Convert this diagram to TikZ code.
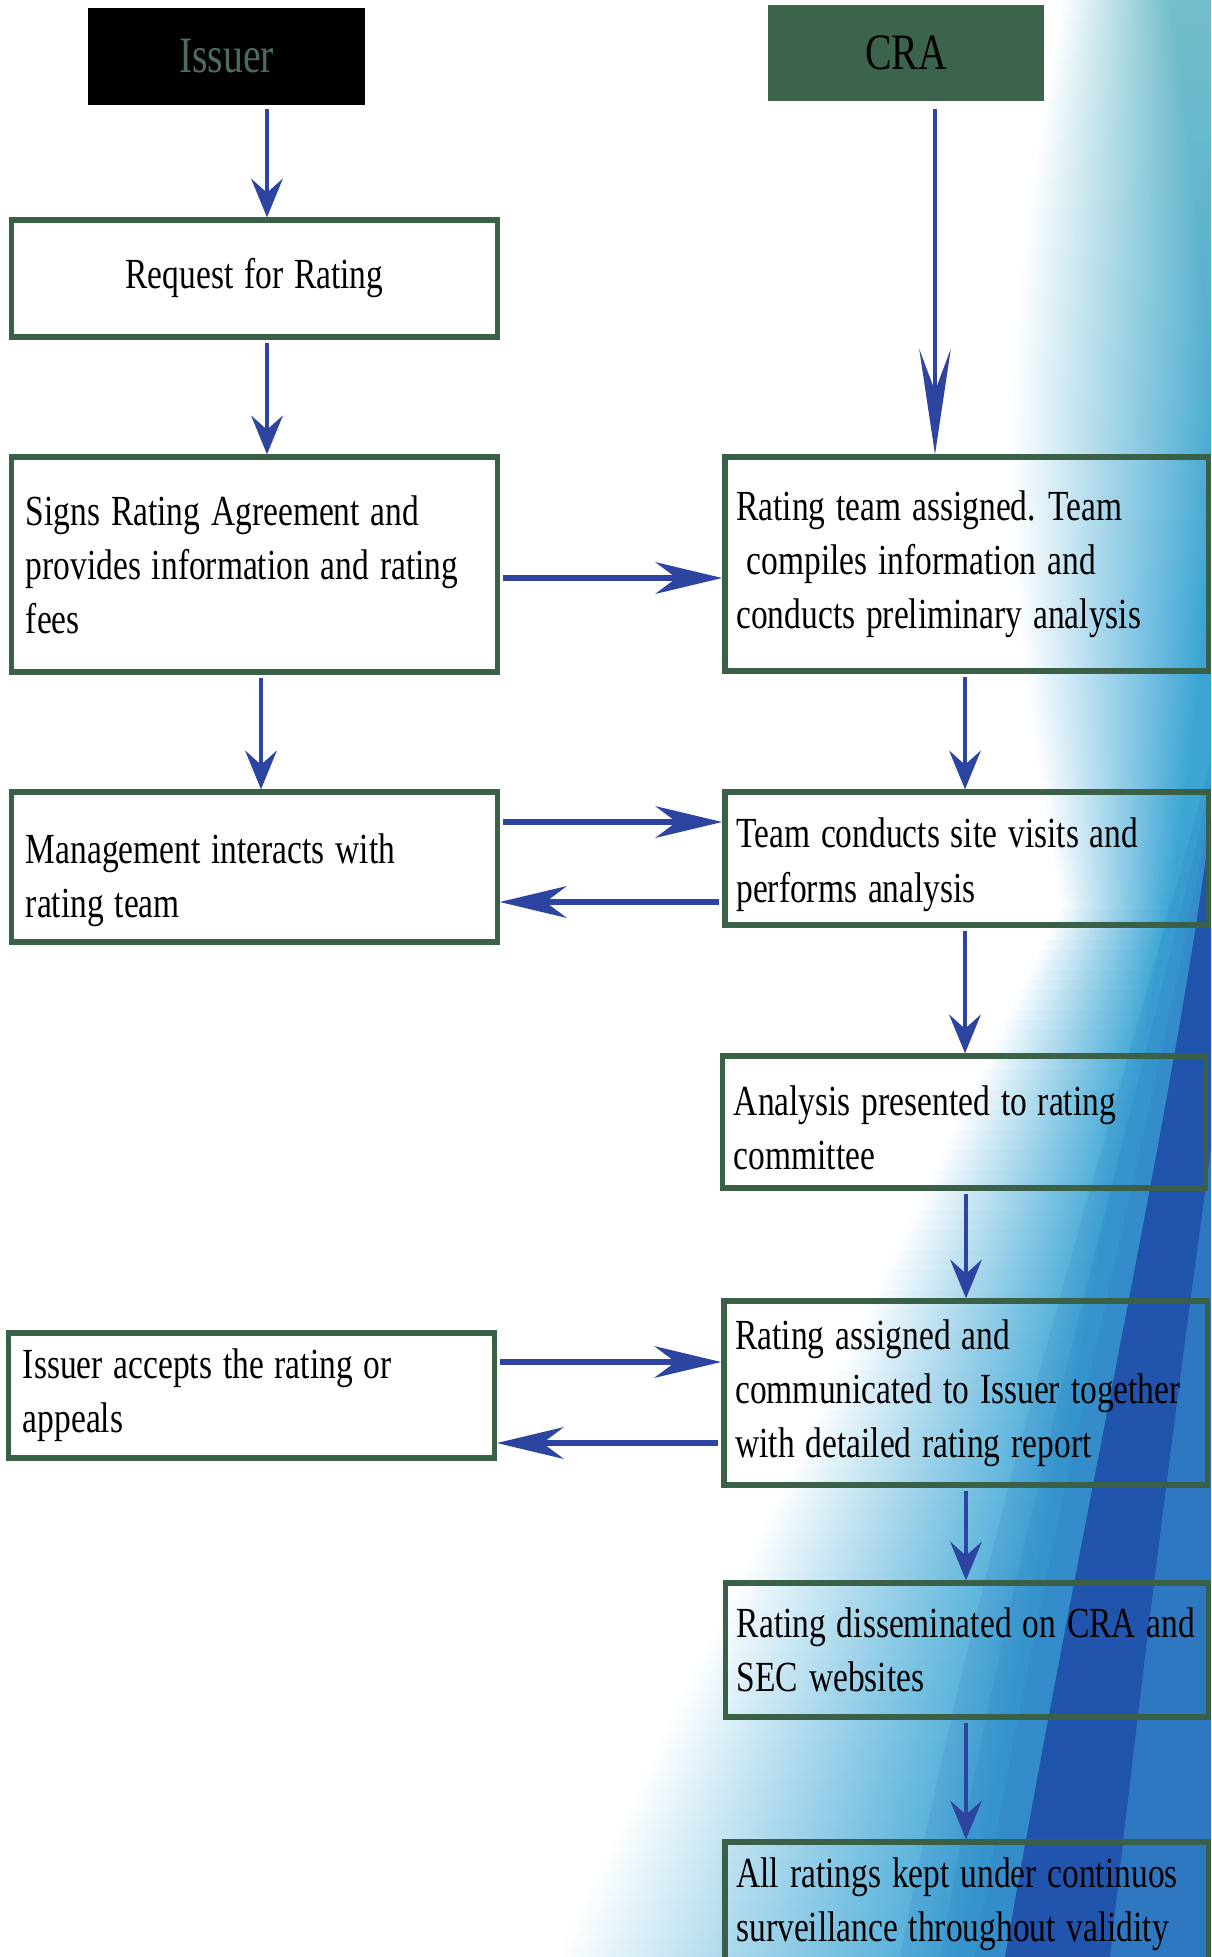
\documentclass[tikz,border=0pt]{standalone}
\usepackage{fontspec}
\setmainfont[FakeStretch=0.78]{Liberation Serif}
\usetikzlibrary{arrows.meta}
\hyphenpenalty=10000

\definecolor{boxgreen}{RGB}{58,97,72}
\definecolor{headgreen}{RGB}{60,99,76}
\definecolor{issuertxt}{RGB}{75,110,90}
\definecolor{arrowblue}{RGB}{45,68,160}
\definecolor{bgteal}{RGB}{115,190,202}
\definecolor{bgcyan}{RGB}{60,165,212}
\definecolor{bgblue}{RGB}{40,95,185}
\definecolor{bgdark}{RGB}{25,60,160}

\tikzset{
	stepbox/.style={draw=boxgreen, line width=1.5pt, inner ysep=0pt, align=left, font=\fontsize{12.2}{15.4}\selectfont, execute at begin node=\spaceskip 3.1pt plus 1pt minus 0.6pt\xspaceskip 3.6pt plus 1pt\relax},
	leftcol/.style={stepbox, inner xsep=1.4mm, text width=4.57cm},
	rightcol/.style={stepbox, inner xsep=1.15mm, text width=4.6cm},
	headbox/.style={minimum width=2.76cm, minimum height=0.96cm, inner sep=0pt, font=\fontsize{14.5}{17}\selectfont},
	flow/.style={arrowblue, line width=1.2pt, shorten <=1pt, -{Stealth[length=11pt, width=9pt, inset=4pt]}},
	longflow/.style={flow, shorten <=2pt, -{Stealth[length=30pt, width=9pt, inset=12pt]}},
	sideflow/.style={arrowblue, line width=1.5pt, shorten <=1pt, -{Stealth[length=19pt, width=9pt, inset=6pt]}}
}

\begin{document}
\begin{tikzpicture}[x=0.01cm, y=-0.01cm]
	\useasboundingbox (0,0) rectangle (1211,1957);
	\begin{scope}
		\clip (0,0) rectangle (1211,1957);
		\foreach \y in {0,10,...,1950} {
			\pgfmathsetmacro\rowx{\y<900 ? 1060-50*sin(\y/900*180) : 1060-0.48*(\y-900)}
			\pgfmathsetmacro\rampw{\y<900 ? 110+90*sin(\y/900*180) : 110+0.28*(\y-900)}
			\pgfmathsetmacro\rowmix{min(100,\y/6)}
			\colorlet{rowc}{bgcyan!\rowmix!bgteal}
			\shade[left color=white, right color=rowc] (\rowx,\y) rectangle (\rowx+\rampw,\y+11);
			\fill[rowc] (\rowx+\rampw-1,\y) rectangle (1211,\y+11);
		}
		\fill[bgblue, opacity=0.12] (1211,760) .. controls (1120,1100) and (990,1500) .. (900,1957) -- (1211,1957) -- cycle;
		\fill[bgblue, opacity=0.12] (1211,780) .. controls (1140,1100) and (1020,1500) .. (940,1957) -- (1211,1957) -- cycle;
		\fill[bgblue, opacity=0.12] (1211,800) .. controls (1160,1100) and (1050,1500) .. (975,1957) -- (1211,1957) -- cycle;
		\fill[bgdark, opacity=0.7] (1211,820) .. controls (1175,1100) and (1085,1500) .. (1005,1957) -- (1110,1957) .. controls (1150,1600) and (1190,1300) .. (1211,1150) -- cycle;
		\fill[bgblue, opacity=0.45] (1211,1150) .. controls (1190,1300) and (1150,1600) .. (1110,1957) -- (1211,1957) -- cycle;
	\end{scope}

	\node[headbox, fill=black, text=issuertxt] (issuer) at (226.5,56.5) {Issuer};
	\node[headbox, fill=headgreen] (cra) at (906,53) {CRA};
	\node[leftcol, align=flush center, minimum height=1.17cm] (request) at (254.5,278.5) {Request for Rating};
	\node[leftcol, minimum height=2.15cm] (signs) at (254.5,564.5) {Signs Rating Agreement and\\ provides information and rating\\ fees};
	\node[rightcol, minimum height=2.14cm] (team) at (966.5,564) {Rating team assigned. Team\\ \hspace*{3pt}compiles information and\\ conducts preliminary analysis};
	\node[leftcol, minimum height=1.5cm] (mgmt) at (254.5,867) {\rule{0pt}{16pt}Management interacts with\\ rating team};
	\node[rightcol, minimum height=1.33cm] (visits) at (966.5,858.5) {\rule{0pt}{12pt}Team conducts site visits and\\ performs analysis};
	\node[rightcol, minimum height=1.32cm] (analysis) at (964,1122) {\rule{0pt}{12pt}Analysis presented to rating\\ committee};
	\node[rightcol, minimum height=1.84cm] (assigned) at (965.5,1393) {Rating assigned and\\ communicated to Issuer together\\ with detailed rating report};
	\node[leftcol, minimum height=1.25cm] (accepts) at (251.5,1395.5) {Issuer accepts the rating or\\ appeals};
	\node[rightcol, minimum height=1.34cm] (dissem) at (967,1650) {Rating disseminated on CRA and\\ SEC websites};
	\node[rightcol, minimum height=1.25cm] (surveil) at (966.5,1904.5) {All ratings kept under continuos\\ surveillance throughout validity};

	\draw[flow] (issuer.south -| 267,0) -- (request.north -| 267,0);
	\draw[flow] (request.south -| 267,0) -- (signs.north -| 267,0);
	\draw[longflow] (cra.south -| 935,0) -- (team.north -| 935,0);
	\draw[flow] (signs.south -| 261,0) -- (mgmt.north -| 261,0);
	\draw[flow] (team.south -| 965,0) -- (visits.north -| 965,0);
	\draw[flow] (visits.south -| 965,0) -- (analysis.north -| 965,0);
	\draw[flow] (analysis.south -| 966,0) -- (assigned.north -| 966,0);
	\draw[flow] (assigned.south -| 966,0) -- (dissem.north -| 966,0);
	\draw[flow] (dissem.south -| 966,0) -- (surveil.north -| 966,0);
	\draw[sideflow] (signs.east |- 0,578) -- (team.west |- 0,578);
	\draw[sideflow] (mgmt.east |- 0,822) -- (visits.west |- 0,822);
	\draw[sideflow] (visits.west |- 0,902) -- (mgmt.east |- 0,902);
	\draw[sideflow] (accepts.east |- 0,1362) -- (assigned.west |- 0,1362);
	\draw[sideflow] (assigned.west |- 0,1443) -- (accepts.east |- 0,1443);
\end{tikzpicture}
\end{document}
